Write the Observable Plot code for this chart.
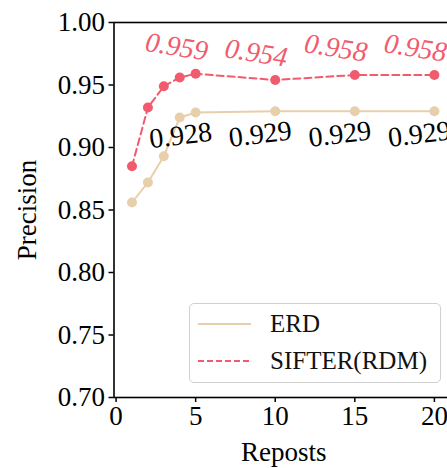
<!DOCTYPE html>
<html><head><meta charset="utf-8">
<script src="https://cdn.jsdelivr.net/npm/d3@7"></script>
<script src="https://cdn.jsdelivr.net/npm/@observablehq/plot@0.6"></script>
<style>
body{margin:0;background:#fff;}
#wrap{position:relative;width:447px;height:468px;overflow:hidden;}
.legend{position:absolute;left:189px;top:303px;width:250px;height:78px;border:1px solid #d0d0d0;border-radius:5px;background:rgba(255,255,255,0.85);font-family:"Liberation Serif",serif;font-size:25px;color:#111;}
.legend .row{position:absolute;left:8px;height:30px;display:flex;align-items:center;}
.legend .row span{margin-left:19px;}
</style></head><body><div id="wrap"></div>
<script>
const reposts = [1, 2, 3, 4, 5, 10, 15, 20];
const erd = [0.856, 0.872, 0.893, 0.924, 0.928, 0.929, 0.929, 0.929];
const sifter = [0.885, 0.932, 0.949, 0.956, 0.959, 0.954, 0.958, 0.958];
const labelReposts = [5, 10, 15, 20];
const erdLabels = [0.928, 0.929, 0.929, 0.929];
const sifterLabels = [0.959, 0.954, 0.958, 0.958];
const seriesNames = ["ERD", "SIFTER(RDM)"];
const colors = ["#e8cfab", "#f25a6d"];
const yTicks = [0.70, 0.75, 0.80, 0.85, 0.90, 0.95, 1.00];
const xTicks = [0, 5, 10, 15, 20];

const erdRows = reposts.map((r, i) => ({x: r, y: erd[i]}));
const sifterRows = reposts.map((r, i) => ({x: r, y: sifter[i]}));
const erdLab = labelReposts.map((r, i) => ({x: r, y: erdLabels[i], t: erdLabels[i].toFixed(3)}));
const sifterLab = labelReposts.map((r, i) => ({x: r, y: sifterLabels[i], t: sifterLabels[i].toFixed(3)}));

const chart = Plot.plot({
  width: 447,
  height: 468,
  marginLeft: 113.5,
  marginRight: -6,
  marginTop: 22,
  marginBottom: 71,
  style: {fontFamily: "'Liberation Serif', serif", fontSize: "27px", color: "black", background: "white"},
  x: {domain: [-0.13, 21.2]},
  y: {domain: [0.70, 1.00]},
  marks: [
    Plot.frame({stroke: "black", strokeWidth: 1.6}),
    Plot.axisY({ticks: yTicks, tickFormat: d3.format(".2f"), tickSize: 5, tickPadding: 4, fontSize: 27, strokeWidth: 1.5,
      label: "Precision", labelAnchor: "center", labelArrow: "none", labelOffset: 97}),
    Plot.axisX({ticks: xTicks, tickFormat: d3.format("d"), tickSize: 5, tickPadding: 3, fontSize: 27, strokeWidth: 1.5,
      label: "Reposts", labelAnchor: "center", labelArrow: "none", labelOffset: 63}),
    Plot.line(erdRows, {x: "x", y: "y", stroke: colors[0], strokeWidth: 2}),
    Plot.line(sifterRows, {x: "x", y: "y", stroke: colors[1], strokeWidth: 2, strokeDasharray: "7,4"}),
    Plot.dot(erdRows, {x: "x", y: "y", r: 5, fill: colors[0]}),
    Plot.dot(sifterRows, {x: "x", y: "y", r: 5, fill: colors[1]}),
    Plot.text(erdLab, {x: "x", y: "y", text: "t", dx: -15, dy: 23, rotate: -7, fill: "black", fontSize: 28}),
    Plot.text(sifterLab, {x: "x", y: "y", text: "t", dx: -19, dy: -27, rotate: 9, fill: colors[1], fontSize: 28, fontStyle: "italic"})
  ]
});
const wrap = document.getElementById("wrap");
wrap.appendChild(chart);

const legend = document.createElement("div");
legend.className = "legend";
const dash = ["", "6,3"];
seriesNames.forEach((name, i) => {
  const row = document.createElement("div");
  row.className = "row";
  row.style.top = (5 + i * 37) + "px";
  row.innerHTML = `<svg width="53" height="10"><line x1="0" x2="53" y1="5" y2="5" stroke="${colors[i]}" stroke-width="2" stroke-dasharray="${dash[i]}"/></svg><span>${name}</span>`;
  legend.appendChild(row);
});
wrap.appendChild(legend);
</script></body></html>
